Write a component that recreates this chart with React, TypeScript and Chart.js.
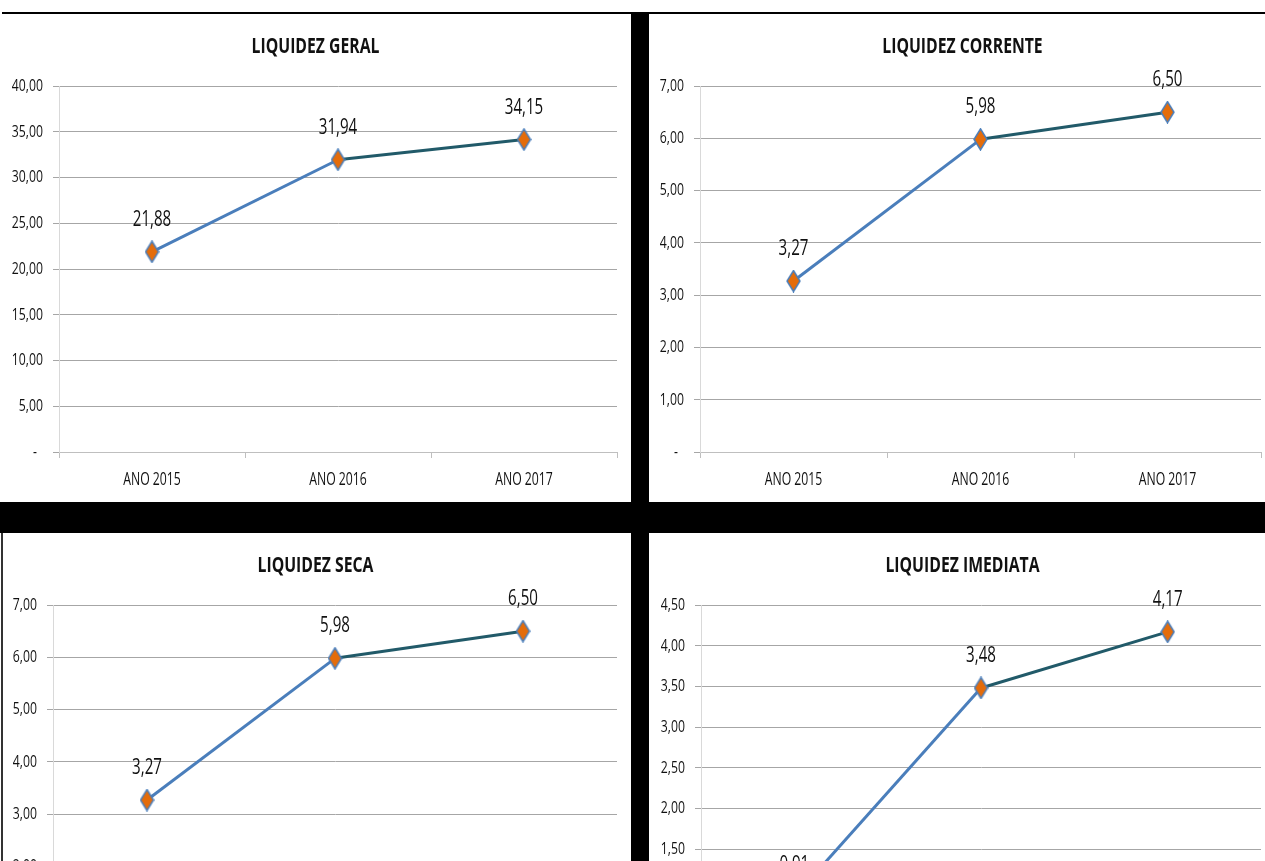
import React, { useEffect, useRef } from "react";
import { Chart, registerables } from "chart.js";

Chart.register(...registerables);

const CATEGORIES = ["ANO 2015", "ANO 2016", "ANO 2017"];

const GERAL_VALUES = [21.88, 31.94, 34.15];
const CORRENTE_VALUES = [3.27, 5.98, 6.5];
const SECA_VALUES = [3.27, 5.98, 6.5];
const IMEDIATA_VALUES = [0.91, 3.48, 4.17];

// [max, step] of each value axis
const GERAL_AXIS = [40, 5];
const CORRENTE_AXIS = [7, 1];
const SECA_AXIS = [7, 1];
const IMEDIATA_AXIS = [4.5, 0.5];

const TITLES = ["LIQUIDEZ GERAL", "LIQUIDEZ CORRENTE", "LIQUIDEZ SECA", "LIQUIDEZ IMEDIATA"];

const FONT = "'Open Sans', 'Noto Sans', sans-serif";
const BLUE = "#4a7ebb";
const TEAL = "#215a69";
const ORANGE = "#e46c0a";
const TEXT = "#111111";

const fmt = (v: number) => v.toFixed(2).replace(".", ",");

function makeDiamond(): HTMLCanvasElement {
  const c = document.createElement("canvas");
  c.width = 15;
  c.height = 23;
  const g = c.getContext("2d")!;
  g.beginPath();
  g.moveTo(7.5, 1);
  g.lineTo(14, 11.5);
  g.lineTo(7.5, 22);
  g.lineTo(1, 11.5);
  g.closePath();
  g.fillStyle = ORANGE;
  g.fill();
  g.lineWidth = 1.5;
  g.strokeStyle = BLUE;
  g.stroke();
  return c;
}

// draws text horizontally condensed (the source font is a narrow one)
function narrowText(
  ctx: CanvasRenderingContext2D,
  text: string,
  x: number,
  y: number,
  font: string,
  sx: number,
  align: CanvasTextAlign
) {
  ctx.save();
  ctx.font = font;
  ctx.fillStyle = TEXT;
  ctx.textAlign = align;
  ctx.textBaseline = "middle";
  ctx.translate(x, y);
  ctx.scale(sx, 1);
  ctx.fillText(text, 0, 0);
  ctx.restore();
}

const textPlugin = {
  id: "textPlugin",
  afterDraw(chart: any) {
    const ctx = chart.ctx as CanvasRenderingContext2D;
    // title
    narrowText(ctx, chart.options.plugins.textPlugin.title, chart.width / 2, 33, `bold 21px ${FONT}`, 0.75, "center");
    // y labels
    const ys = chart.scales.y;
    ys.ticks.forEach((t: any) => {
      const py = ys.getPixelForValue(t.value);
      const label = t.value === 0 ? "-" : fmt(t.value);
      const px = t.value === 0 ? ys.right - 6 - 10 - 6 : ys.right - 6 - 10;
      narrowText(ctx, label, px, py, `17px ${FONT}`, 0.72, "right");
    });
    // x labels
    const xs = chart.scales.x;
    (chart.data.labels as string[]).forEach((lab, i) => {
      const px = xs.getPixelForTick(i);
      narrowText(ctx, lab, px, xs.top + 28, `18px ${FONT}`, 0.68, "center");
    });
    // value labels
    const meta = chart.getDatasetMeta(0);
    const data = chart.data.datasets[0].data as number[];
    meta.data.forEach((pt: any, i: number) => {
      narrowText(ctx, fmt(data[i]), pt.x, pt.y - 32, `21px ${FONT}`, 0.72, "center");
    });
  },
};

type PanelProps = {
  title: string;
  values: number[];
  axis: number[];
  left: number;
  top: number;
  width: number;
  height: number;
  yWidth: number;
  rightPad: number;
};

function Panel(p: PanelProps) {
  const ref = useRef<HTMLCanvasElement>(null);
  useEffect(() => {
    const diamond = makeDiamond();
    const chart = new Chart(ref.current!, {
      type: "line",
      data: {
        labels: CATEGORIES,
        datasets: [
          {
            data: p.values,
            borderWidth: 3,
            borderColor: BLUE,
            segment: {
              borderColor: (c: any) => (c.p0DataIndex === 0 ? BLUE : TEAL),
            },
            pointStyle: diamond as any,
            pointRadius: 10,
            tension: 0,
            fill: false,
          },
        ],
      },
      options: {
        animation: false,
        responsive: false,
        maintainAspectRatio: false,
        layout: { padding: { left: 0, right: p.rightPad, top: 72, bottom: 0 } },
        plugins: {
          legend: { display: false },
          tooltip: { enabled: false },
          title: { display: false },
          textPlugin: { title: p.title },
        } as any,
        scales: {
          x: {
            offset: true,
            afterFit: (s: any) => {
              s.height = 50;
            },
            grid: {
              offset: true,
              drawOnChartArea: false,
              drawTicks: true,
              tickLength: 6,
              color: "#bfbfbf",
            },
            border: { display: true, color: "#bfbfbf", width: 1 },
            ticks: { display: false },
          },
          y: {
            min: 0,
            max: p.axis[0],
            afterFit: (s: any) => {
              s.width = p.yWidth;
            },
            grid: { color: "#a6a6a6", tickLength: 6, drawTicks: true },
            border: { display: true, color: "#d9d9d9", width: 1 },
            ticks: { stepSize: p.axis[1], display: false },
          },
        },
      },
      plugins: [textPlugin],
    } as any);
    return () => chart.destroy();
  }, []);
  return (
    <canvas
      ref={ref}
      width={p.width}
      height={p.height}
      style={{ position: "absolute", left: p.left, top: p.top, width: p.width, height: p.height }}
    />
  );
}

export default function App() {
  const bar = (s: React.CSSProperties) => <div style={{ position: "absolute", background: "#000", ...s }} />;
  return (
    <div
      style={{
        position: "absolute",
        left: 0,
        top: 0,
        width: 1265,
        height: 861,
        overflow: "hidden",
        background: "#fff",
      }}
    >
      <Panel title={TITLES[0]} values={GERAL_VALUES} axis={GERAL_AXIS} left={0} top={14} width={631} height={488} yWidth={59} rightPad={14} />
      <Panel title={TITLES[1]} values={CORRENTE_VALUES} axis={CORRENTE_AXIS} left={649} top={14} width={627} height={488} yWidth={51} rightPad={15} />
      <Panel title={TITLES[2]} values={SECA_VALUES} axis={SECA_AXIS} left={0} top={533} width={631} height={488} yWidth={53} rightPad={14} />
      <Panel title={TITLES[3]} values={IMEDIATA_VALUES} axis={IMEDIATA_AXIS} left={649} top={533} width={627} height={488} yWidth={52} rightPad={15} />
      {bar({ left: 2, top: 12, width: 1263, height: 2 })}
      {bar({ left: 631, top: 14, width: 18, height: 847 })}
      {bar({ left: 0, top: 502, width: 1265, height: 31 })}
      {bar({ left: 1, top: 533, width: 2, height: 328, background: "#333" })}
    </div>
  );
}
